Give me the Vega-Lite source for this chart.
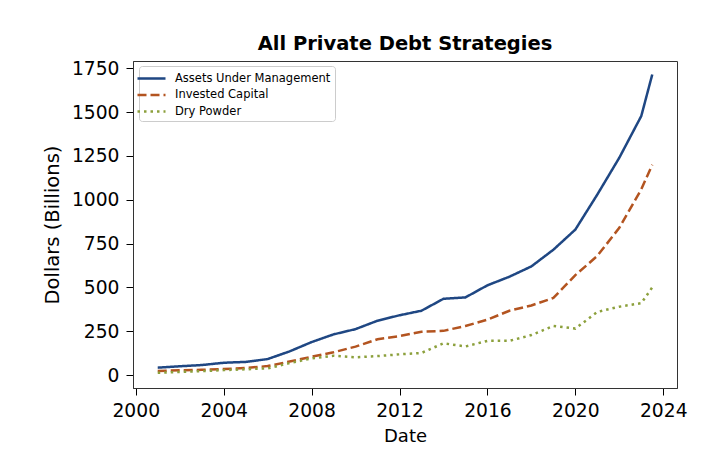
{
  "$schema": "https://vega.github.io/schema/vega-lite/v6.json",
  "autosize": {"type": "none"},
  "width": 544,
  "height": 327,
  "padding": {"left": 133, "top": 61, "right": 37, "bottom": 74},
  "background": "white",
  "title": {"text": "All Private Debt Strategies", "font": "DejaVu Sans", "fontSize": 19.5, "fontWeight": "bold", "color": "black", "offset": 5, "anchor": "middle"},
  "config": {
    "view": {"stroke": "#333", "strokeWidth": 1},
    "axis": {"grid": false, "labelFont": "DejaVu Sans", "titleFont": "DejaVu Sans", "labelFontSize": 18.7, "titleFontSize": 18, "titleFontWeight": "normal", "labelColor": "black", "titleColor": "black", "tickColor": "black", "domainColor": "#333", "tickSize": 7, "labelPadding": 5},
    "legend": {"labelFont": "DejaVu Sans"}
  },
  "data": {"values": [
    {"date": 2001, "series": "Assets Under Management", "value": 42},
    {"date": 2002, "series": "Assets Under Management", "value": 50},
    {"date": 2003, "series": "Assets Under Management", "value": 57},
    {"date": 2004, "series": "Assets Under Management", "value": 70},
    {"date": 2005, "series": "Assets Under Management", "value": 75},
    {"date": 2006, "series": "Assets Under Management", "value": 91},
    {"date": 2007, "series": "Assets Under Management", "value": 135},
    {"date": 2008, "series": "Assets Under Management", "value": 188},
    {"date": 2009, "series": "Assets Under Management", "value": 232},
    {"date": 2010, "series": "Assets Under Management", "value": 262},
    {"date": 2011, "series": "Assets Under Management", "value": 310},
    {"date": 2012, "series": "Assets Under Management", "value": 341},
    {"date": 2013, "series": "Assets Under Management", "value": 367},
    {"date": 2014, "series": "Assets Under Management", "value": 435},
    {"date": 2015, "series": "Assets Under Management", "value": 443},
    {"date": 2016, "series": "Assets Under Management", "value": 512},
    {"date": 2017, "series": "Assets Under Management", "value": 561},
    {"date": 2018, "series": "Assets Under Management", "value": 620},
    {"date": 2019, "series": "Assets Under Management", "value": 715},
    {"date": 2020, "series": "Assets Under Management", "value": 830},
    {"date": 2021, "series": "Assets Under Management", "value": 1030},
    {"date": 2022, "series": "Assets Under Management", "value": 1240},
    {"date": 2023, "series": "Assets Under Management", "value": 1478},
    {"date": 2023.5, "series": "Assets Under Management", "value": 1715},
    {"date": 2001, "series": "Invested Capital", "value": 23},
    {"date": 2002, "series": "Invested Capital", "value": 27},
    {"date": 2003, "series": "Invested Capital", "value": 30},
    {"date": 2004, "series": "Invested Capital", "value": 34},
    {"date": 2005, "series": "Invested Capital", "value": 40},
    {"date": 2006, "series": "Invested Capital", "value": 51},
    {"date": 2007, "series": "Invested Capital", "value": 77},
    {"date": 2008, "series": "Invested Capital", "value": 104},
    {"date": 2009, "series": "Invested Capital", "value": 130},
    {"date": 2010, "series": "Invested Capital", "value": 162},
    {"date": 2011, "series": "Invested Capital", "value": 204},
    {"date": 2012, "series": "Invested Capital", "value": 222},
    {"date": 2013, "series": "Invested Capital", "value": 247},
    {"date": 2014, "series": "Invested Capital", "value": 252},
    {"date": 2015, "series": "Invested Capital", "value": 280},
    {"date": 2016, "series": "Invested Capital", "value": 316},
    {"date": 2017, "series": "Invested Capital", "value": 367},
    {"date": 2018, "series": "Invested Capital", "value": 397},
    {"date": 2019, "series": "Invested Capital", "value": 440},
    {"date": 2020, "series": "Invested Capital", "value": 570},
    {"date": 2021, "series": "Invested Capital", "value": 680},
    {"date": 2022, "series": "Invested Capital", "value": 840},
    {"date": 2023, "series": "Invested Capital", "value": 1060},
    {"date": 2023.5, "series": "Invested Capital", "value": 1200},
    {"date": 2001, "series": "Dry Powder", "value": 13},
    {"date": 2002, "series": "Dry Powder", "value": 18},
    {"date": 2003, "series": "Dry Powder", "value": 22},
    {"date": 2004, "series": "Dry Powder", "value": 28},
    {"date": 2005, "series": "Dry Powder", "value": 33},
    {"date": 2006, "series": "Dry Powder", "value": 38},
    {"date": 2007, "series": "Dry Powder", "value": 68},
    {"date": 2008, "series": "Dry Powder", "value": 95},
    {"date": 2009, "series": "Dry Powder", "value": 110},
    {"date": 2010, "series": "Dry Powder", "value": 101},
    {"date": 2011, "series": "Dry Powder", "value": 108},
    {"date": 2012, "series": "Dry Powder", "value": 118},
    {"date": 2013, "series": "Dry Powder", "value": 126},
    {"date": 2014, "series": "Dry Powder", "value": 181},
    {"date": 2015, "series": "Dry Powder", "value": 163},
    {"date": 2016, "series": "Dry Powder", "value": 195},
    {"date": 2017, "series": "Dry Powder", "value": 195},
    {"date": 2018, "series": "Dry Powder", "value": 228},
    {"date": 2019, "series": "Dry Powder", "value": 280},
    {"date": 2020, "series": "Dry Powder", "value": 265},
    {"date": 2021, "series": "Dry Powder", "value": 360},
    {"date": 2022, "series": "Dry Powder", "value": 390},
    {"date": 2023, "series": "Dry Powder", "value": 410},
    {"date": 2023.5, "series": "Dry Powder", "value": 500}
  ]},
  "mark": {"type": "line", "strokeWidth": 2.5, "clip": true},
  "encoding": {
    "x": {"field": "date", "type": "quantitative", "title": "Date",
      "scale": {"domain": [1999.875, 2024.625], "nice": false, "zero": false},
      "axis": {"values": [2000, 2004, 2008, 2012, 2016, 2020, 2024], "format": "d", "labelPadding": 6, "titlePadding": 8}},
    "y": {"field": "value", "type": "quantitative", "title": "Dollars (Billions)",
      "scale": {"domain": [-74, 1792], "nice": false, "zero": false},
      "axis": {"values": [0, 250, 500, 750, 1000, 1250, 1500, 1750], "format": "d", "labelPadding": 7, "titlePadding": 9, "titleFontSize": 19.5}},
    "color": {"field": "series", "type": "nominal",
      "scale": {"domain": ["Assets Under Management", "Invested Capital", "Dry Powder"], "range": ["#1f4783", "#b35420", "#8ca03c"]},
      "legend": {"title": null, "orient": "none", "legendX": 6, "legendY": 5, "symbolType": "M-2,0H2", "symbolSize": 196, "symbolStrokeWidth": 2.5, "labelFontSize": 11.5, "labelColor": "black", "labelOffset": 15, "strokeColor": "#cccccc", "fillColor": "rgba(255,255,255,0.8)", "cornerRadius": 3, "padding": 4, "rowPadding": 2.5}},
    "strokeDash": {"field": "series", "type": "nominal",
      "scale": {"domain": ["Assets Under Management", "Invested Capital", "Dry Powder"], "range": [[1, 0], [9, 4], [2.5, 4]]},
      "legend": {"title": null, "orient": "none", "legendX": 6, "legendY": 5, "symbolType": "M-2,0H2", "symbolSize": 196, "symbolStrokeWidth": 2.5, "labelFontSize": 11.5, "labelColor": "black", "labelOffset": 15, "strokeColor": "#cccccc", "fillColor": "rgba(255,255,255,0.8)", "cornerRadius": 3, "padding": 4, "rowPadding": 2.5}}
  }
}
